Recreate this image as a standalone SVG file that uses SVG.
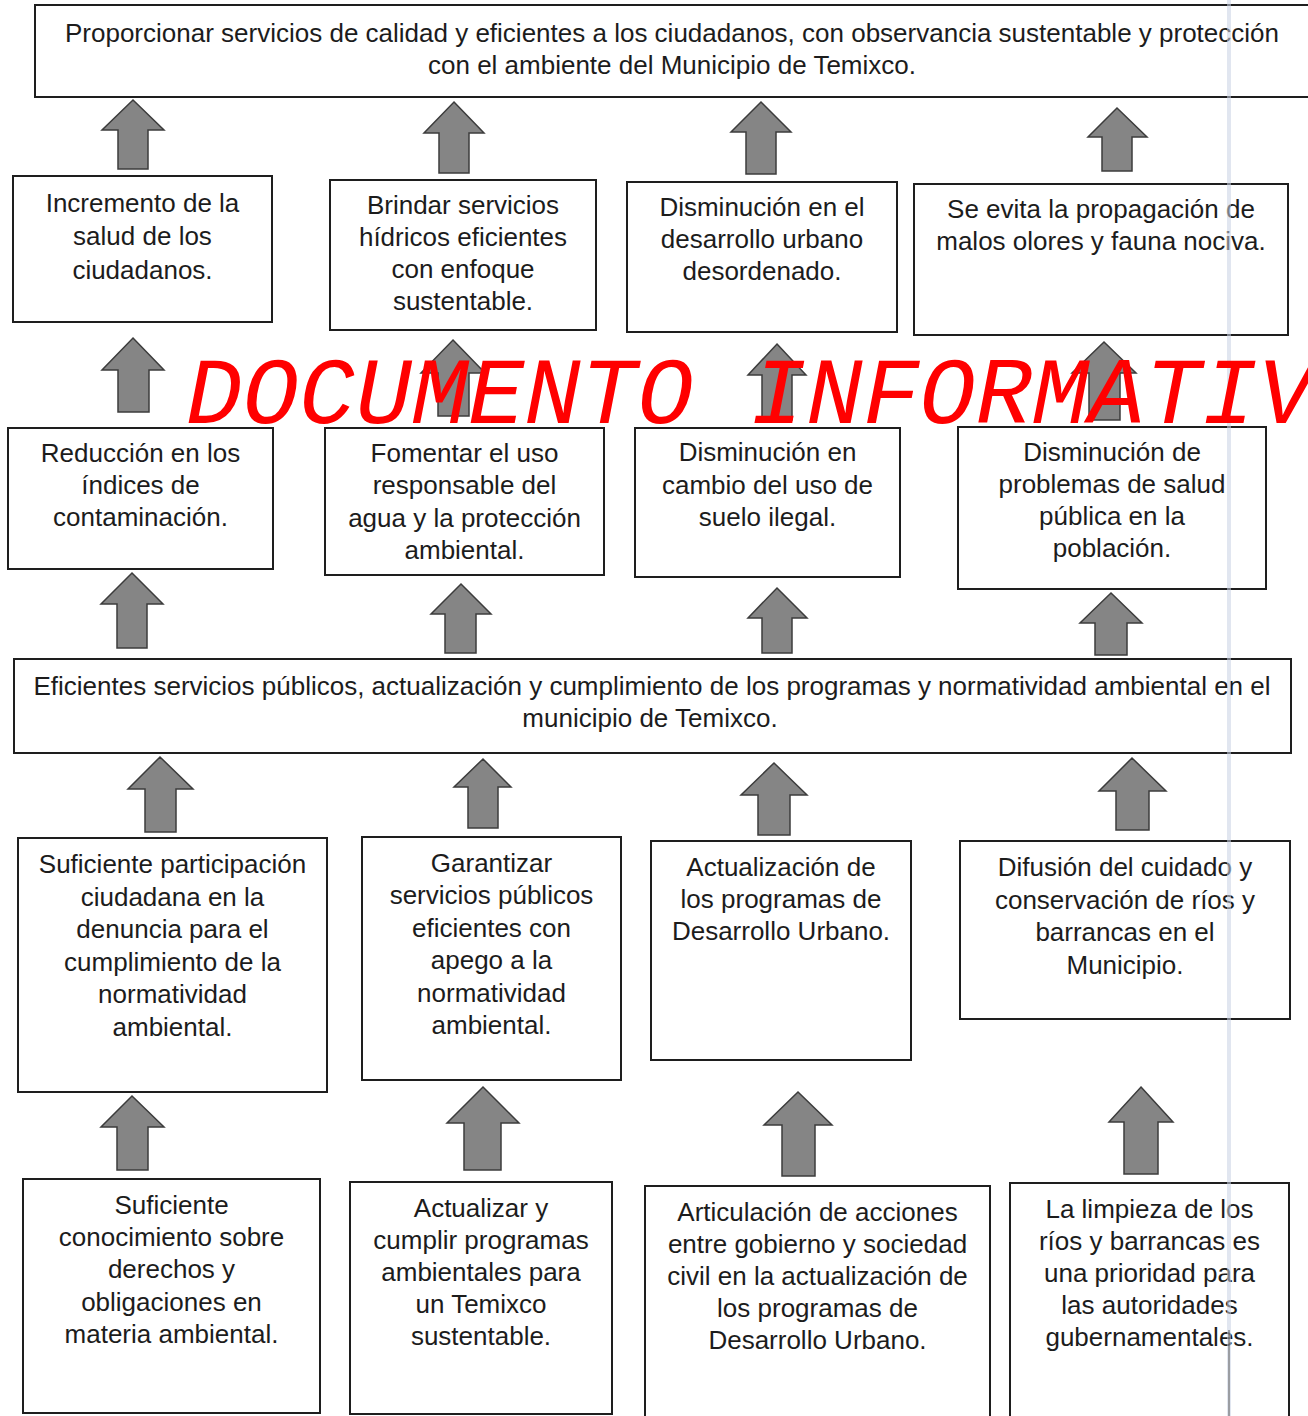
<svg xmlns="http://www.w3.org/2000/svg" width="1308" height="1416" viewBox="0 0 1308 1416">
<style>
.bx{fill:#ffffff;stroke:#1e1e1e;stroke-width:2}
.t{font-family:"Liberation Sans",Arial,sans-serif;font-size:26px;fill:#1c1c1c;text-anchor:middle}
.ar{fill:#858585;stroke:#3c3c3c;stroke-width:1.5;stroke-linejoin:miter}
.wm{font-family:"Liberation Mono","Courier New",monospace;font-style:italic;font-size:94px;fill:#ff0000}
.scan{stroke:#c9d2e4;stroke-width:4;fill:none;opacity:0.55}
</style>
<rect x="0" y="0" width="1308" height="1416" fill="#ffffff"/>

<g id="connectors">
<path class="ar" d="M133,100 L164,130 L148,130 L148,169 L118,169 L118,130 L102,130 Z"/>
<path class="ar" d="M454,102 L484,133 L469,133 L469,173 L439,173 L439,133 L424,133 Z"/>
<path class="ar" d="M761,102 L791,132 L776,132 L776,174 L746,174 L746,132 L731,132 Z"/>
<path class="ar" d="M1117,108 L1147,137 L1132,137 L1132,171 L1102,171 L1102,137 L1088,137 Z"/>

<path class="ar" d="M133,338 L164,370 L149,370 L149,412 L118,412 L118,370 L102,370 Z"/>
<path class="ar" d="M453,340 L485,373 L469,373 L469,416 L438,416 L438,373 L421,373 Z"/>
<path class="ar" d="M777,344 L806,375 L792,375 L792,420 L762,420 L762,375 L748,375 Z"/>
<path class="ar" d="M1104,342 L1136,373 L1120,373 L1120,420 L1089,420 L1089,373 L1072,373 Z"/>

<path class="ar" d="M132,573 L163,604 L147,604 L147,648 L117,648 L117,604 L101,604 Z"/>
<path class="ar" d="M461,584 L491,614 L476,614 L476,653 L445,653 L445,614 L431,614 Z"/>
<path class="ar" d="M777,588 L807,618 L792,618 L792,653 L762,653 L762,618 L748,618 Z"/>
<path class="ar" d="M1111,593 L1142,623 L1127,623 L1127,655 L1095,655 L1095,623 L1080,623 Z"/>

<path class="ar" d="M160,757 L193,789 L176,789 L176,832 L145,832 L145,789 L128,789 Z"/>
<path class="ar" d="M483,759 L511,787 L498,787 L498,828 L468,828 L468,787 L454,787 Z"/>
<path class="ar" d="M774,763 L807,795 L790,795 L790,835 L758,835 L758,795 L741,795 Z"/>
<path class="ar" d="M1132,758 L1166,791 L1149,791 L1149,830 L1116,830 L1116,791 L1099,791 Z"/>

<path class="ar" d="M132,1096 L164,1127 L148,1127 L148,1170 L117,1170 L117,1127 L101,1127 Z"/>
<path class="ar" d="M483,1087 L519,1123 L501,1123 L501,1170 L464,1170 L464,1123 L447,1123 Z"/>
<path class="ar" d="M798,1092 L832,1125 L815,1125 L815,1176 L782,1176 L782,1125 L764,1125 Z"/>
<path class="ar" d="M1141,1087 L1173,1122 L1158,1122 L1158,1174 L1124,1174 L1124,1122 L1109,1122 Z"/>
</g>

<g id="fin">
<rect class="bx" x="35" y="5" width="1290" height="92"/>
<text class="t" x="672" y="42">Proporcionar servicios de calidad y eficientes a los ciudadanos, con observancia sustentable y protección</text>
<text class="t" x="672" y="74">con el ambiente del Municipio de Temixco.</text>
</g>

<g id="efecto1">
<rect class="bx" x="13" y="176" width="259" height="146"/>
<text class="t" x="142.5" y="212">Incremento de la</text>
<text class="t" x="142.5" y="245">salud de los</text>
<text class="t" x="142.5" y="279">ciudadanos.</text>
</g>
<g id="efecto2">
<rect class="bx" x="330" y="180" width="266" height="150"/>
<text class="t" x="463" y="214">Brindar servicios</text>
<text class="t" x="463" y="246">hídricos eficientes</text>
<text class="t" x="463" y="278">con enfoque</text>
<text class="t" x="463" y="310">sustentable.</text>
</g>
<g id="efecto3">
<rect class="bx" x="627" y="182" width="270" height="150"/>
<text class="t" x="762" y="216">Disminución en el</text>
<text class="t" x="762" y="248">desarrollo urbano</text>
<text class="t" x="762" y="280">desordenado.</text>
</g>
<g id="efecto4">
<rect class="bx" x="914" y="184" width="374" height="151"/>
<text class="t" x="1101" y="218">Se evita la propagación de</text>
<text class="t" x="1101" y="250">malos olores y fauna nociva.</text>
</g>

<g id="efecto5">
<rect class="bx" x="8" y="428" width="265" height="141"/>
<text class="t" x="140.5" y="462">Reducción en los</text>
<text class="t" x="140.5" y="494">índices de</text>
<text class="t" x="140.5" y="526">contaminación.</text>
</g>
<g id="efecto6">
<rect class="bx" x="325" y="428" width="279" height="147"/>
<text class="t" x="464.5" y="462">Fomentar el uso</text>
<text class="t" x="464.5" y="494">responsable del</text>
<text class="t" x="464.5" y="527">agua y la protección</text>
<text class="t" x="464.5" y="559">ambiental.</text>
</g>
<g id="efecto7">
<rect class="bx" x="635" y="428" width="265" height="149"/>
<text class="t" x="767.5" y="461">Disminución en</text>
<text class="t" x="767.5" y="494">cambio del uso de</text>
<text class="t" x="767.5" y="526">suelo ilegal.</text>
</g>
<g id="efecto8">
<rect class="bx" x="958" y="427" width="308" height="162"/>
<text class="t" x="1112" y="461">Disminución de</text>
<text class="t" x="1112" y="493">problemas de salud</text>
<text class="t" x="1112" y="525">pública en la</text>
<text class="t" x="1112" y="557">población.</text>
</g>

<g id="objetivo">
<rect class="bx" x="14" y="659" width="1277" height="94"/>
<text class="t" x="652" y="695">Eficientes servicios públicos, actualización y cumplimiento de los programas y normatividad ambiental en el</text>
<text class="t" x="650" y="727">municipio de Temixco.</text>
</g>

<g id="componente1">
<rect class="bx" x="18" y="838" width="309" height="254"/>
<text class="t" x="172.5" y="873">Suficiente participación</text>
<text class="t" x="172.5" y="906">ciudadana en la</text>
<text class="t" x="172.5" y="938">denuncia para el</text>
<text class="t" x="172.5" y="971">cumplimiento de la</text>
<text class="t" x="172.5" y="1003">normatividad</text>
<text class="t" x="172.5" y="1036">ambiental.</text>
</g>
<g id="componente2">
<rect class="bx" x="362" y="837" width="259" height="243"/>
<text class="t" x="491.5" y="872">Garantizar</text>
<text class="t" x="491.5" y="904">servicios públicos</text>
<text class="t" x="491.5" y="937">eficientes con</text>
<text class="t" x="491.5" y="969">apego a la</text>
<text class="t" x="491.5" y="1002">normatividad</text>
<text class="t" x="491.5" y="1034">ambiental.</text>
</g>
<g id="componente3">
<rect class="bx" x="651" y="841" width="260" height="219"/>
<text class="t" x="781" y="876">Actualización de</text>
<text class="t" x="781" y="908">los programas de</text>
<text class="t" x="781" y="940">Desarrollo Urbano.</text>
</g>
<g id="componente4">
<rect class="bx" x="960" y="841" width="330" height="178"/>
<text class="t" x="1125" y="876">Difusión del cuidado y</text>
<text class="t" x="1125" y="909">conservación de ríos y</text>
<text class="t" x="1125" y="941">barrancas en el</text>
<text class="t" x="1125" y="974">Municipio.</text>
</g>

<g id="actividad1">
<rect class="bx" x="23" y="1179" width="297" height="234"/>
<text class="t" x="171.5" y="1214">Suficiente</text>
<text class="t" x="171.5" y="1246">conocimiento sobre</text>
<text class="t" x="171.5" y="1278">derechos y</text>
<text class="t" x="171.5" y="1311">obligaciones en</text>
<text class="t" x="171.5" y="1343">materia ambiental.</text>
</g>
<g id="actividad2">
<rect class="bx" x="350" y="1182" width="262" height="232"/>
<text class="t" x="481" y="1217">Actualizar y</text>
<text class="t" x="481" y="1249">cumplir programas</text>
<text class="t" x="481" y="1281">ambientales para</text>
<text class="t" x="481" y="1313">un Temixco</text>
<text class="t" x="481" y="1345">sustentable.</text>
</g>
<g id="actividad3">
<rect class="bx" x="645" y="1186" width="345" height="240"/>
<text class="t" x="817.5" y="1221">Articulación de acciones</text>
<text class="t" x="817.5" y="1253">entre gobierno y sociedad</text>
<text class="t" x="817.5" y="1285">civil en la actualización de</text>
<text class="t" x="817.5" y="1317">los programas de</text>
<text class="t" x="817.5" y="1349">Desarrollo Urbano.</text>
</g>
<g id="actividad4">
<rect class="bx" x="1010" y="1183" width="279" height="243"/>
<text class="t" x="1149.5" y="1218">La limpieza de los</text>
<text class="t" x="1149.5" y="1250">ríos y barrancas es</text>
<text class="t" x="1149.5" y="1282">una prioridad para</text>
<text class="t" x="1149.5" y="1314">las autoridades</text>
<text class="t" x="1149.5" y="1346">gubernamentales.</text>
</g>

<line class="scan" x1="1229" y1="0" x2="1229" y2="1416"/>
<line x1="1229" y1="1330" x2="1229" y2="1416" stroke="#555555" stroke-width="1"/>

<text class="wm" x="186" y="423">DOCUMENTO INFORMATIV</text>
</svg>
